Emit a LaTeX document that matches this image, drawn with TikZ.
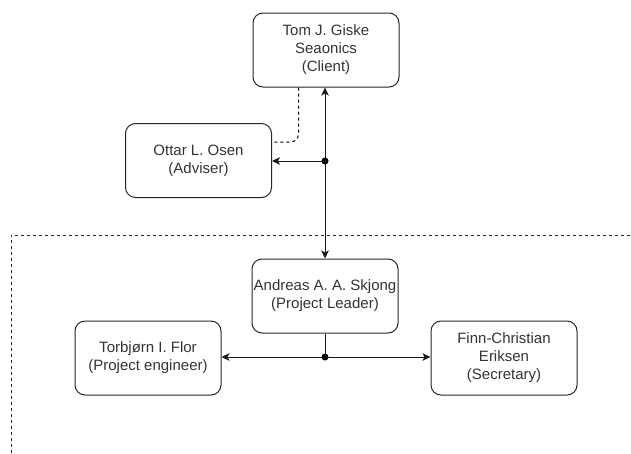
\documentclass[tikz,border=0pt]{standalone}
\usepackage{fontspec}
\setmainfont{Liberation Sans}
\usetikzlibrary{arrows.meta}
\definecolor{txt}{HTML}{333333}
\tikzset{
  person/.style={draw=black!85, line width=1pt, rounded corners=10pt, minimum width=146pt,
    minimum height=74pt, align=center, inner sep=0pt, text=txt,
    font=\fontsize{15pt}{18pt}\selectfont,
    execute at begin node={\rule{0pt}{16pt}}},
  link/.style={draw=black!90, line width=1pt},
  arr/.style={link, -{Stealth[length=8pt,width=7.5pt,inset=2pt]}},
  junction/.style={circle, fill=black, inner sep=0pt, minimum size=7pt},
  boundary/.style={draw=black!85, line width=0.9pt, dash pattern=on 3pt off 3pt},
  informal/.style={draw=black, line width=1pt, dash pattern=on 3pt off 3pt}
}
\begin{document}
\begin{tikzpicture}[x=1pt,y=-1pt]
  \useasboundingbox (0,0) rectangle (631,453);

  % project boundary
  \coordinate (bl) at (11,453);
  \coordinate (tl) at (11,235);
  \coordinate (tr) at (631,235);
  \draw[boundary] (bl) -- (tl) -- (tr);

  % people
  \node[person] (tom) at (326,50) {Tom J. Giske\\Seaonics\\(Client)};
  \node[person] (ottar) at (198.5,160.5) {Ottar L. Osen\\(Adviser)};
  \node[person] (andreas) at (325,296) {Andreas A. A. Skjong\\(Project Leader)};
  \node[person] (torb) at (148,358) {Torbjørn I. Flor\\(Project engineer)};
  \node[person] (finn) at (504,358) {Finn-Christian\\Eriksen\\(Secretary)};

  % junctions
  \node[junction] (j1) at (325,161) {};
  \node[junction] (j2) at (325,357) {};

  % client / leader line
  \draw[arr] (j1.center) -- (j1.center |- tom.south);
  \draw[arr] (j1.center) -- (j1.center |- andreas.north);
  \draw[arr] (j1.center) -- (j1.center -| ottar.east);

  % adviser informal link
  \coordinate (d0) at (298.5,0);
  \draw[informal, rounded corners=8pt] (d0 |- tom.south) |- (ottar.east |- 0,142);

  % leader to team
  \draw[link] (andreas.south -| j2) -- (j2.center);
  \draw[arr] (j2.center) -- (j2.center -| torb.east);
  \draw[arr] (j2.center) -- (j2.center -| finn.west);
\end{tikzpicture}
\end{document}
